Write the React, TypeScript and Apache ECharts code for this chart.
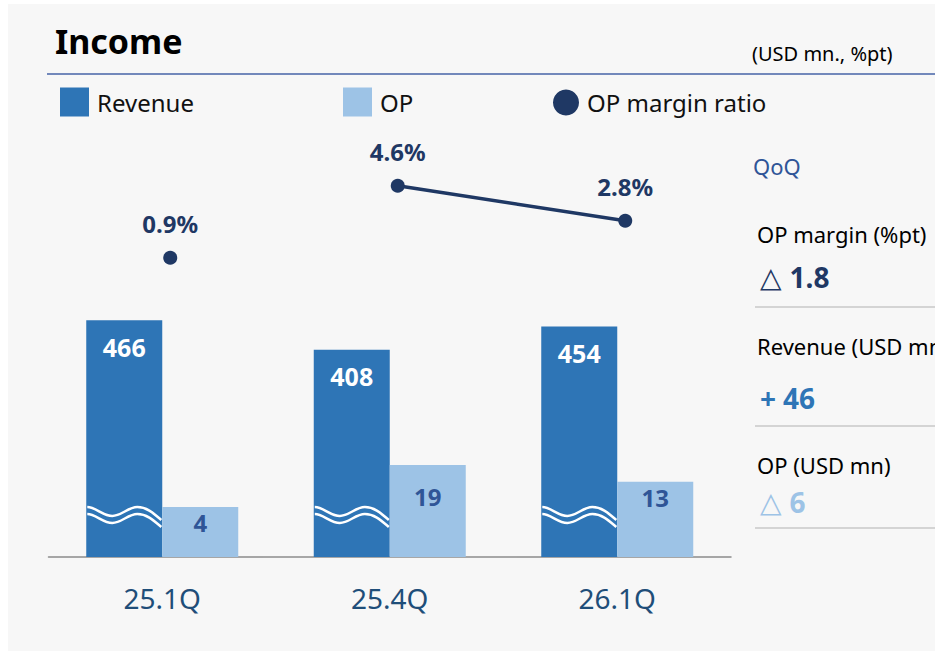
import React, { useEffect, useRef } from "react";
import * as echarts from "echarts";

const CATEGORIES = ["25.1Q", "25.4Q", "26.1Q"];
const REVENUE = [466, 408, 454];
const OP = [4, 19, 13];
const OP_MARGIN = [0.9, 4.6, 2.8];
const MARGIN_LINKED = [false, true, true];
const QOQ_LABELS = ["OP margin (%pt)", "Revenue (USD mn)", "OP (USD mn)"];

const FONT = "'Noto Sans', 'DejaVu Sans', sans-serif";
const C_REV = "#2e75b6";
const C_OP = "#9dc3e6";
const C_MARGIN = "#1f3864";
const OP_BASE = 13.86; // broken-axis lift for the OP bars
const BAR_W = 76;

function qoq(arr: number[]) {
  const n = arr.length;
  const d = arr[n - 1] - arr[n - 2];
  return { sign: d < 0 ? "△" : "+", abs: Math.abs(d) };
}

export default function App() {
  const ref = useRef<HTMLDivElement>(null);
  useEffect(() => {
    if (!ref.current) return;
    const chart = echarts.init(ref.current, undefined, { renderer: "svg" });

    const qMargin = qoq(OP_MARGIN);
    const qRev = qoq(REVENUE);
    const qOp = qoq(OP);
    const qoqVals = [
      { sign: qMargin.sign, text: qMargin.abs.toFixed(1), color: C_MARGIN },
      { sign: qRev.sign, text: String(Math.round(qRev.abs)), color: C_REV },
      { sign: qOp.sign, text: String(Math.round(qOp.abs)), color: C_OP },
    ];
    const labelY = [230, 342, 461];
    const valueY = [273, 394, 498];
    const dividerY = [303, 422, 524];

    const graphics: any[] = [
      {
        type: "text",
        x: 47,
        y: 37,
        style: { text: "Income", fontSize: 34, fontWeight: "bold", fontFamily: FONT, fill: "#000", verticalAlign: "middle" },
      },
      {
        type: "text",
        x: 744,
        y: 49,
        style: { text: "(USD mn., %pt)", fontSize: 20, fontFamily: FONT, fill: "#000", verticalAlign: "middle" },
      },
      {
        type: "line",
        shape: { x1: 39, y1: 70, x2: 927, y2: 70 },
        style: { stroke: "#7288bb", lineWidth: 2 },
      },
      {
        type: "text",
        x: 745,
        y: 162,
        style: { text: "QoQ", fontSize: 22, fontFamily: FONT, fill: "#2f5597", verticalAlign: "middle" },
      },
    ];
    QOQ_LABELS.forEach((lab, i) => {
      graphics.push({
        type: "text",
        x: 749,
        y: labelY[i],
        style: { text: lab, fontSize: 22, fontFamily: FONT, fill: "#000", verticalAlign: "middle" },
      });
      const v = qoqVals[i];
      const isPlus = v.sign === "+";
      graphics.push({
        type: "text",
        x: 752,
        y: valueY[i],
        style: {
          text: `{s|${v.sign}}{n|${v.text}}`,
          verticalAlign: "middle",
          rich: {
            s: { fontSize: isPlus ? 28 : 28, fontWeight: isPlus ? "bold" : "normal", fontFamily: isPlus ? FONT : "'DejaVu Sans', sans-serif", fill: v.color, color: v.color },
            n: { fontSize: 28, fontWeight: "bold", fontFamily: FONT, fill: v.color, color: v.color, padding: [0, 0, 0, isPlus ? 7 : 8] },
          },
        },
      });
      graphics.push({
        type: "line",
        shape: { x1: 747, y1: dividerY[i], x2: 927, y2: dividerY[i] },
        style: { stroke: "#c8c8c8", lineWidth: 1.5 },
      });
    });

    const legendText = { fontSize: 24, color: "#111", fontFamily: FONT, padding: [0, 0, 0, 3] };

    const marginLabel = {
      show: true,
      position: "top",
      distance: 15,
      color: C_MARGIN,
      fontSize: 24,
      fontWeight: "bold",
      fontFamily: FONT,
      formatter: (p: any) => `${p.value}%`,
    };

    chart.setOption({
      animation: false,
      backgroundColor: "#f7f7f7",
      textStyle: { fontFamily: FONT },
      graphic: graphics,
      legend: [
        { data: ["Revenue"], left: 52, top: 83.5, padding: 0, icon: "rect", itemWidth: 29, itemHeight: 29, selectedMode: false, textStyle: legendText },
        { data: ["OP"], left: 335, top: 83.5, padding: 0, icon: "rect", itemWidth: 29, itemHeight: 29, selectedMode: false, textStyle: legendText },
        { data: [{ name: "OP margin ratio", icon: "circle" }], left: 545, top: 85.5, padding: 0, itemWidth: 26, itemHeight: 26, selectedMode: false, textStyle: legendText },
      ],
      grid: [
        { left: 40.5, right: 204, top: 100, bottom: 94 },
        { left: 48.5, right: 196, top: 100, bottom: 94 },
      ],
      xAxis: [
        {
          type: "category",
          gridIndex: 0,
          data: CATEGORIES,
          axisTick: { show: false },
          axisLine: { onZero: false, lineStyle: { color: "#8c8c8c", width: 1.5 } },
          axisLabel: { fontSize: 28, color: "#1f4e79", margin: 27, fontFamily: FONT },
        },
        { type: "category", gridIndex: 1, data: CATEGORIES, show: false },
      ],
      yAxis: [
        { type: "value", gridIndex: 0, min: 0, max: 892, show: false, splitLine: { show: false } },
        { type: "value", gridIndex: 0, min: 0, max: 161.8, show: false, splitLine: { show: false } },
        { type: "value", gridIndex: 1, min: -14.48, max: 8.8, show: false, splitLine: { show: false } },
      ],
      series: [
        {
          name: "Revenue",
          type: "bar",
          xAxisIndex: 0,
          yAxisIndex: 0,
          data: REVENUE,
          barWidth: BAR_W,
          barGap: "0%",
          itemStyle: { color: C_REV },
          label: { show: true, position: "insideTop", distance: 14, color: "#fff", fontSize: 25, fontWeight: "bold", fontFamily: FONT },
        },
        {
          name: "OP",
          type: "bar",
          xAxisIndex: 0,
          yAxisIndex: 1,
          // OP bars sit on a broken axis: lifted by OP_BASE, labelled with the true value
          data: OP.map((v, i) => (i === 1 ? { value: v + OP_BASE, label: { distance: 19 } } : v + OP_BASE)),
          barWidth: BAR_W,
          barGap: "0%",
          itemStyle: { color: C_OP },
          label: {
            show: true,
            position: "insideTop",
            distance: 4,
            color: "#2f5597",
            fontSize: 24,
            fontWeight: "bold",
            fontFamily: FONT,
            formatter: (p: any) => String(OP[p.dataIndex]),
          },
        },
        {
          type: "custom",
          xAxisIndex: 0,
          yAxisIndex: 0,
          z: 5,
          silent: true,
          data: CATEGORIES.map((_, i) => [i]),
          renderItem: (params: any, api: any) => {
            const p = api.coord([api.value(0), 0]);
            const x0 = p[0] - BAR_W;
            const y0 = p[1] - 50;
            const wave = (dy: number) => {
              const X = (v: number) => (x0 + v).toFixed(1);
              const Y = (v: number) => (y0 + dy + v).toFixed(1);
              return `M${X(1)},${Y(0)} C${X(9)},${Y(0)} ${X(17)},${Y(9)} ${X(26)},${Y(9)} C${X(35)},${Y(9)} ${X(42)},${Y(0)} ${X(51)},${Y(0)} C${X(61)},${Y(0)} ${X(68)},${Y(7)} ${X(75)},${Y(13)}`;
            };
            return {
              type: "group",
              children: [0, 7].map((dy) => ({
                type: "path",
                shape: { pathData: wave(dy) },
                style: { stroke: "#fff", lineWidth: 2.5, fill: "none" },
              })),
            };
          },
        },
        {
          name: "OP margin ratio",
          type: "line",
          xAxisIndex: 1,
          yAxisIndex: 2,
          data: OP_MARGIN.map((v, i) => (MARGIN_LINKED[i] ? v : "-")),
          symbol: "circle",
          symbolSize: 14,
          itemStyle: { color: C_MARGIN, opacity: 1 },
          lineStyle: { color: C_MARGIN, width: 3.5 },
          label: marginLabel,
          z: 6,
        },
        {
          name: "OP margin ratio",
          type: "scatter",
          xAxisIndex: 1,
          yAxisIndex: 2,
          data: OP_MARGIN.map((v, i) => (MARGIN_LINKED[i] ? "-" : v)),
          symbol: "circle",
          symbolSize: 14,
          itemStyle: { color: C_MARGIN, opacity: 1 },
          label: marginLabel,
          z: 6,
        },
      ],
    });
    return () => chart.dispose();
  }, []);

  return (
    <div
      ref={ref}
      style={{ position: "fixed", left: 8, top: 4, width: 927, height: 647 }}
    />
  );
}
